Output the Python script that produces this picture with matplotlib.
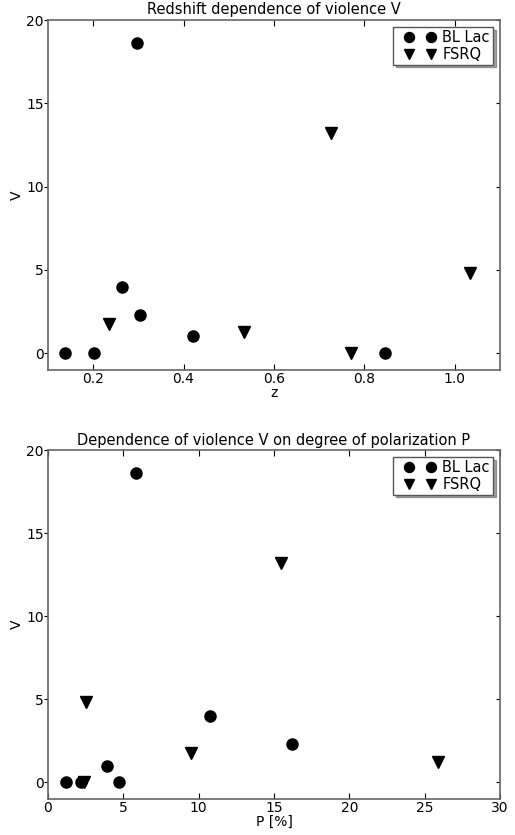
import numpy as np
import matplotlib
matplotlib.use('Agg')
import matplotlib.pyplot as plt
from matplotlib.legend_handler import HandlerLine2D
from matplotlib.lines import TICKLEFT

# BL Lac
bl_z = [0.137, 0.201, 0.298, 0.264, 0.304, 0.422, 0.845]
bl_P = [1.22, 2.2, 5.87, 10.74, 16.2, 3.92, 4.72]
bl_V = [0.0, 0.0, 18.65, 4.0, 2.3, 1.02, 0.0]

# FSRQ
fs_z = [0.235, 0.534, 0.727, 0.771, 1.034]
fs_P = [9.52, 25.86, 15.45, 2.37, 2.5]
fs_V = [1.75, 1.25, 13.2, 0.0, 4.83]

plt.rcParams['font.size'] = 10
plt.rcParams['xtick.direction'] = 'in'
plt.rcParams['ytick.direction'] = 'in'
plt.rcParams['xtick.top'] = True
plt.rcParams['ytick.right'] = True


# legend handle with the two markers placed like the old matplotlib legend
class TwoMarkers(HandlerLine2D):
    def get_xdata(self, legend, xdescent, ydescent, width, height, fontsize):
        x = -xdescent + fontsize * np.array([0.89, 2.4])
        return x, x


fig = plt.figure(figsize=(5.15, 8.35), dpi=100)
ax1 = fig.add_axes([0.093, 0.557, 0.878, 0.419])
ax2 = fig.add_axes([0.093, 0.043, 0.878, 0.418])


def panel(ax, xb, xf, title, xlabel, xlim, xticks):
    ax.plot(xb, bl_V, 'o', color='black', markersize=8, label='BL Lac')
    ax.plot(xf, fs_V, 'v', color='black', markersize=8, label='FSRQ')
    ax.set_xlim(*xlim)
    ax.set_ylim(-1, 20)
    ax.set_xticks(xticks)
    ax.set_yticks([0, 5, 10, 15, 20])
    ax.set_title(title, fontsize=10.5, pad=4)
    ax.set_xlabel(xlabel, labelpad=0)
    ax.set_ylabel('V', labelpad=1.5)
    for s in ax.spines.values():
        s.set_color('#666666')
        s.set_linewidth(1.2)
    ax.tick_params(axis='x', length=4, pad=1.5)
    ax.tick_params(axis='y', length=3, pad=3)
    # left ticks point outwards, right ticks inwards
    for t in ax.yaxis.get_major_ticks():
        t.tick1line.set_marker(TICKLEFT)
    leg = ax.legend(loc='upper right', numpoints=2, shadow=True, fancybox=False,
                    fontsize=10.5, handlelength=2.86, handletextpad=0.3,
                    borderpad=0.2, labelspacing=0.1, borderaxespad=0.5,
                    markerscale=0.9,
                    handler_map={matplotlib.lines.Line2D: TwoMarkers()})
    leg.get_frame().set_edgecolor('#555555')


panel(ax1, bl_z, fs_z, 'Redshift dependence of violence V', 'z',
      (0.1, 1.1), [0.2, 0.4, 0.6, 0.8, 1.0])
panel(ax2, bl_P, fs_P, 'Dependence of violence V on degree of polarization P',
      'P [%]', (0, 30), [0, 5, 10, 15, 20, 25, 30])

fig.savefig('out.png', dpi=100)
